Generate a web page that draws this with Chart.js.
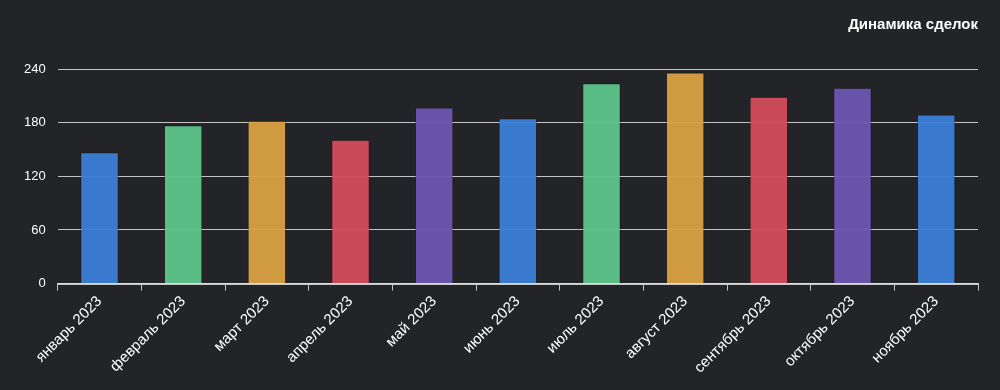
<!DOCTYPE html>
<html lang="ru">
<head>
  <meta charset="UTF-8"/>
  <title>Динамика сделок</title>
  <script src="https://cdn.jsdelivr.net/npm/chart.js"></script>
  <style>
    html, body { margin: 0; padding: 0; background: #232427; }
    #wrap { width: 1000px; height: 390px; }
  </style>
</head>
<body>
  <div id="wrap"><canvas id="dealsChart"></canvas></div>

  <script>
    const months = ['январь 2023', 'февраль 2023', 'март 2023', 'апрель 2023', 'май 2023', 'июнь 2023',
                    'июль 2023', 'август 2023', 'сентябрь 2023', 'октябрь 2023', 'ноябрь 2023'];
    const deals = [147, 177, 182, 161, 197, 185, 224, 236, 209, 219, 189];
    const palette = ['#3a7fda', '#5ec78c', '#dba242', '#d64d5d', '#6d55b3'];
    const yTicks = [0, 60, 120, 180, 240];

    const barColors = months.map((_, i) => palette[i % palette.length] + 'f0');

    const ctx = document.getElementById('dealsChart').getContext('2d');
    new Chart(ctx, {
      type: 'bar',
      data: {
        labels: months,
        datasets: [{
          label: 'Сделки',
          data: deals,
          backgroundColor: barColors,
          borderColor: 'rgba(0,0,0,0.25)',
          borderWidth: 1,
          barPercentage: 0.46,
          categoryPercentage: 1
        }]
      },
      options: {
        responsive: true,
        maintainAspectRatio: false,
        animation: false,
        layout: { padding: { left: 12, right: 22, top: 8, bottom: 11 } },
        plugins: {
          legend: { display: false },
          tooltip: { enabled: false },
          title: {
            display: true,
            text: 'Динамика сделок',
            align: 'end',
            color: '#ffffff',
            font: { family: 'Liberation Sans, Arial, sans-serif', size: 15, weight: 'bold' },
            padding: { top: 8, bottom: 35 }
          }
        },
        scales: {
          y: {
            min: 0,
            max: 240,
            afterBuildTicks: axis => { axis.ticks = yTicks.map(v => ({ value: v })); },
            border: { display: false },
            grid: { color: 'rgba(225,225,225,0.85)', lineWidth: 1, drawTicks: false },
            ticks: {
              color: '#ffffff',
              padding: 12,
              font: { family: 'Liberation Sans, Arial, sans-serif', size: 13 }
            }
          },
          x: {
            border: { display: true, color: 'rgba(225,225,225,0.85)', width: 2 },
            grid: { drawOnChartArea: false, drawTicks: true, tickLength: 7, color: 'rgba(225,225,225,0.85)' },
            ticks: {
              color: '#ffffff',
              minRotation: 45,
              maxRotation: 45,
              autoSkip: false,
              padding: 2,
              font: { family: 'Liberation Sans, Arial, sans-serif', size: 15 }
            }
          }
        }
      }
    });
  </script>
</body>
</html>
